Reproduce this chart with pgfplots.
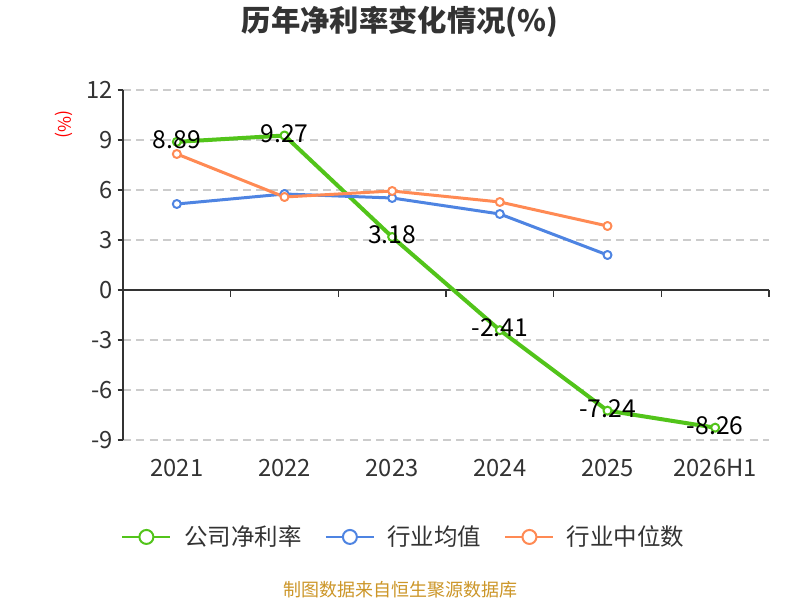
\documentclass[border=0pt]{standalone}
\usepackage{fontspec}
\setmainfont{Noto Sans CJK SC}
\usepackage{pgfplots}
\pgfplotsset{compat=1.18}
\definecolor{cgreen}{RGB}{82,196,26}
\definecolor{cblue}{RGB}{78,132,226}
\definecolor{corange}{RGB}{255,138,84}
\definecolor{ctext}{RGB}{51,51,51}
\definecolor{cgrid}{RGB}{204,204,204}
\definecolor{csrc}{RGB}{204,150,40}
\begin{document}
\begin{tikzpicture}
\fill[white] (0,0) rectangle (600pt,450pt);
\path[use as bounding box] (0,0) rectangle (600pt,450pt);
\begin{axis}[
  at={(92.25pt,120pt)}, anchor=south west,
  scale only axis, width=484.5pt, height=262.5pt,
  xmin=-0.5, xmax=5.5, ymin=-9, ymax=12,
  axis lines*=left,
  x axis line style={draw=none},
  y axis line style={draw=ctext, line width=1.1pt},
  xtick={0,...,5}, xticklabels={2021,2022,2023,2024,2025,2026H1},
  ytick={-9,-6,-3,0,3,6,9,12}, yticklabels={-9,-6,-3,0,3,6,9,12},
  x tick style={draw=none},
  y tick style={draw=ctext, line width=1.1pt},
  tick align=outside, major tick length=4pt,
  ticklabel style={font=\fontsize{17.8pt}{20pt}\selectfont, text=ctext},
  xticklabel style={yshift=-6.75pt},
  ymajorgrids, major grid style={cgrid, dash pattern=on 6pt off 4pt, line width=1.1pt},
  legend columns=3,
  legend style={at={(-0.0395,-0.277)}, anchor=west, draw=none, fill=none,
    font=\fontsize{17.6pt}{20pt}\selectfont, text=ctext, inner sep=0pt,
    nodes={inner sep=0pt}, row sep=0pt, column sep=0pt},
  legend cell align=left,
  legend image code/.code={
    \path (-17pt,0pt) (45pt,0pt);
    \draw[#1, line width=1.5pt, mark=none] (0pt,0pt) -- (36pt,0pt);
    \draw[#1, line width=1.5pt, mark=none, fill=white] (18pt,0pt) circle (5.25pt);
  },
  clip=false,
]
\draw[ctext, line width=1.1pt] (axis cs:-0.5,0) -- (axis cs:5.5,0);
\pgfplotsinvokeforeach{0.5,1.5,2.5,3.5,4.5,5.5}{
  \draw[ctext, line width=1.1pt] (axis cs:#1,0) -- ([yshift=-5pt]axis cs:#1,0);
}
\addplot[cgreen, line width=3pt, line join=round, mark=*, mark size=3pt,
  mark options={fill=white, draw=cgreen, line width=1.5pt},
  nodes near coords, point meta=explicit symbolic,
  every node near coord/.append style={font=\fontsize{18.5pt}{20pt}\selectfont, text=black, anchor=center, yshift=1.5pt}]
  table[meta=lab] {
x y lab
0 8.89 8.89
1 9.27 9.27
2 3.18 3.18
3 -2.41 -2.41
4 -7.24 -7.24
5 -8.26 -8.26
};
\addlegendentry{公司净利率}
\addplot[cblue, line width=2.25pt, line join=round, mark=*, mark size=3pt,
  mark options={fill=white, draw=cblue, line width=1.5pt}]
  table {
x y
0 5.16
1 5.76
2 5.52
3 4.56
4 2.10
};
\addlegendentry{行业均值}
\addplot[corange, line width=2.25pt, line join=round, mark=*, mark size=3pt,
  mark options={fill=white, draw=corange, line width=1.5pt}]
  table {
x y
0 8.16
1 5.58
2 5.94
3 5.28
4 3.84
};
\addlegendentry{行业中位数}
\end{axis}
\node[font=\fontsize{22pt}{24pt}\selectfont\bfseries, text=ctext] at (300pt,433.5pt) {历年净利率变化情况(\%)};
\node[font=\fontsize{13pt}{14pt}\selectfont, text=red, rotate=-90] at (47.6pt,356.6pt) {(\%)};
\node[font=\fontsize{13.5pt}{16pt}\selectfont, text=csrc] at (300pt,7.5pt) {制图数据来自恒生聚源数据库};
\end{tikzpicture}
\end{document}
